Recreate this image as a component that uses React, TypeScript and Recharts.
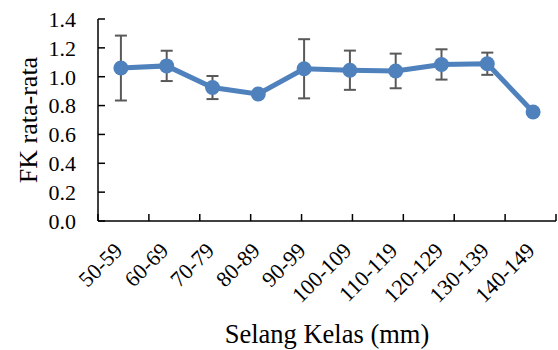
import { LineChart, Line, XAxis, YAxis, ErrorBar } from "recharts";

const kelas = ["50-59", "60-69", "70-79", "80-89", "90-99", "100-109", "110-119", "120-129", "130-139", "140-149"];
const fkRata = [1.06, 1.075, 0.925, 0.88, 1.055, 1.045, 1.04, 1.085, 1.09, 0.755];
const fkError = [0.225, 0.105, 0.08, 0, 0.205, 0.136, 0.12, 0.105, 0.077, 0];
const yTicks = [0, 0.2, 0.4, 0.6, 0.8, 1.0, 1.2, 1.4];
const boundaryTicks = kelas.map((_, i) => i).concat(kelas.length);

const data = kelas.map((k, i) => ({ kelas: k, fk: fkRata[i], err: fkError[i] }));

const FONT = '"Liberation Serif", "Times New Roman", serif';
const axisStroke = { stroke: "#000", strokeWidth: 1.5 };

const KelasTick = ({ x, y, payload }: any) => (
  <text
    x={x + 3}
    y={y + 30}
    transform={`rotate(-45, ${x + 3}, ${y + 30})`}
    textAnchor="end"
    fontFamily={FONT}
    fontSize={22}
    fill="#000"
  >
    {payload.value}
  </text>
);

export default function App() {
  return (
    <div style={{ position: "absolute", left: 0, top: 0, width: 558, height: 350, background: "#fff" }}>
      <LineChart width={558} height={350} data={data} margin={{ top: 19, right: 2, left: 0, bottom: 127 }}>
        {/* boundary ticks between classes, drawn on a numeric axis */}
        <XAxis
          xAxisId={0}
          type="number"
          domain={[0, kelas.length]}
          ticks={boundaryTicks}
          interval={0}
          tickFormatter={() => ""}
          height={1}
          axisLine={axisStroke}
          tickLine={axisStroke}
          tickSize={-7}
          tickMargin={0}
        />
        <XAxis
          xAxisId={1}
          dataKey="kelas"
          type="category"
          scale="band"
          height={1}
          axisLine={false}
          tickLine={false}
          tickSize={0}
          tickMargin={0}
          interval={0}
          tick={<KelasTick />}
          label={(props: any) => {
            const vb = props.viewBox;
            return (
              <text
                x={vb.x + vb.width / 2}
                y={343}
                textAnchor="middle"
                fontFamily={FONT}
                fontSize={26.5}
                fill="#000"
              >
                Selang Kelas (mm)
              </text>
            );
          }}
        />
        <YAxis
          width={98}
          domain={[0, 1.4]}
          ticks={yTicks}
          interval={0}
          tickFormatter={(v: number) => v.toFixed(1)}
          axisLine={axisStroke}
          tickLine={axisStroke}
          tickSize={-7}
          tickMargin={29}
          tick={{ fill: "#000", fontFamily: FONT, fontSize: 22 }}
          label={(props: any) => {
            const vb = props.viewBox;
            const cy = vb.y + vb.height / 2;
            return (
              <text
                x={37}
                y={cy}
                transform={`rotate(-90, 37, ${cy})`}
                textAnchor="middle"
                fontFamily={FONT}
                fontSize={26}
                fill="#000"
              >
                FK rata-rata
              </text>
            );
          }}
        />
        <Line
          xAxisId={1}
          dataKey="fk"
          stroke="#4f81bd"
          strokeWidth={5}
          dot={{ r: 7.5, fill: "#4f81bd", stroke: "#4f81bd", strokeWidth: 0 }}
          isAnimationActive={false}
        >
          <ErrorBar dataKey="err" direction="y" width={6} stroke="#595959" strokeWidth={2} />
        </Line>
      </LineChart>
    </div>
  );
}
